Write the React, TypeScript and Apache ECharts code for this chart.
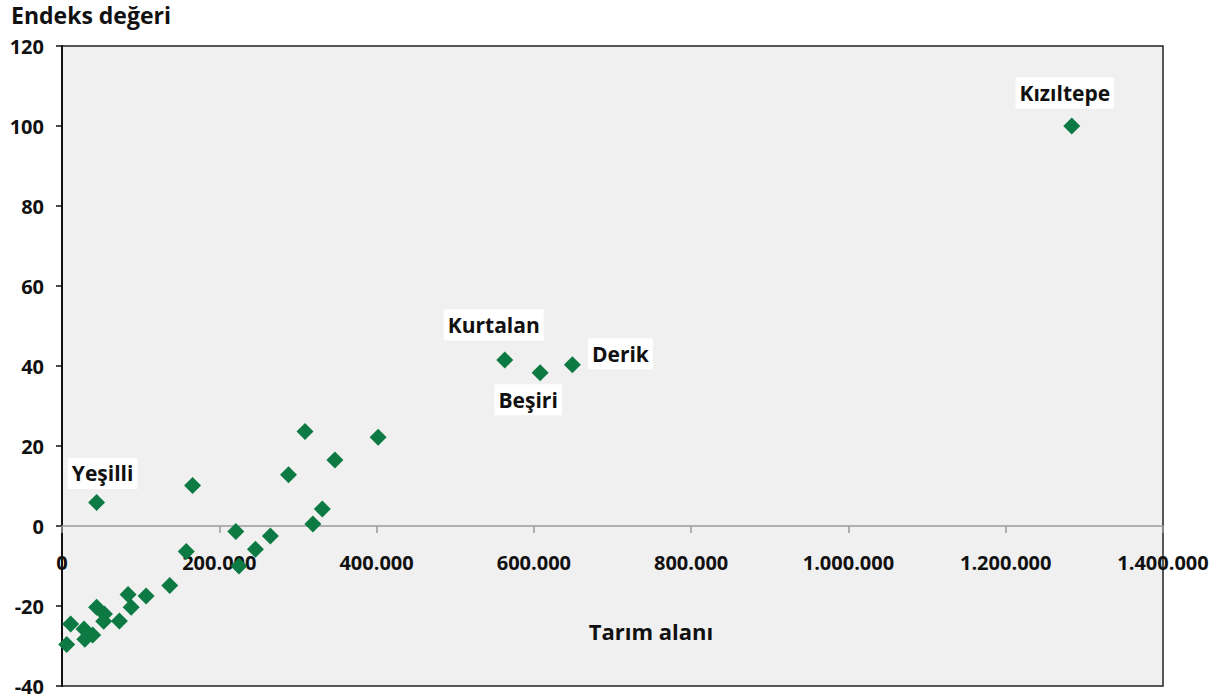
import React, { useEffect, useRef } from "react";
import * as echarts from "echarts";

// Tarım alanı (x) and Endeks değeri (y) per district
const areaValues: number[] = [
  1284000, 563000, 608000, 649000, 44000, 166000, 309000, 402000, 347000, 288000,
  331000, 319000, 221000, 265000, 246000, 158000, 225000, 137000, 107000, 84000,
  88000, 44000, 54000, 53000, 73000, 11000, 28000, 39000, 29000, 6000,
];
const indexValues: number[] = [
  100, 41.5, 38.3, 40.3, 5.9, 10.1, 23.6, 22.2, 16.5, 12.8,
  4.25, 0.5, -1.4, -2.5, -5.8, -6.4, -10, -14.9, -17.5, -17.1,
  -20.3, -20.3, -22, -23.8, -23.75, -24.5, -25.75, -27.25, -28.3, -29.6,
];
const pointNames: string[] = [
  "Kızıltepe", "Kurtalan", "Beşiri", "Derik", "Yeşilli", "", "", "", "", "",
  "", "", "", "", "", "", "", "", "", "",
  "", "", "", "", "", "", "", "", "", "",
];
const xTitle = "Tarım alanı";
const yTitle = "Endeks değeri";

const labelOffsets: Record<string, [number, number]> = {
  "Kızıltepe": [-7, -33],
  "Kurtalan": [-11, -35],
  "Beşiri": [-12, 27],
  "Derik": [48, -11],
  "Yeşilli": [6, -29],
};

const FONT = "'Open Sans', 'Noto Sans', sans-serif";
const SYM = 17;

function fmt(v: number): string {
  return String(Math.round(v)).replace(/\B(?=(\d{3})+(?!\d))/g, ".");
}

export default function App() {
  const ref = useRef<HTMLDivElement>(null);
  useEffect(() => {
    if (!ref.current) return;
    const chart = echarts.init(ref.current, undefined, { renderer: "svg" });
    const data = areaValues.map((x, i) => {
      const name = pointNames[i];
      const item: any = { value: [x, indexValues[i]], name };
      if (name) {
        const off = labelOffsets[name] || [0, -30];
        item.label = {
          show: true,
          formatter: name,
          position: [SYM / 2 + off[0], SYM / 2 + off[1]],
          align: "center",
          verticalAlign: "middle",
          backgroundColor: "#ffffff",
          padding: [5, 4],
          color: "#111",
          fontFamily: FONT,
          fontWeight: "bold",
          fontSize: 21,
        };
      }
      return item;
    });
    chart.setOption({
      animation: false,
      backgroundColor: "#ffffff",
      grid: {
        left: 62,
        right: 58,
        top: 46,
        bottom: 11,
        containLabel: false,
        outerBoundsMode: "none",
        show: true,
        backgroundColor: "#f0f0f0",
        borderColor: "#222",
        borderWidth: 1.5,
      },
      xAxis: {
        type: "value",
        min: 0,
        max: 1400000,
        interval: 200000,
        position: "bottom",
        offset: -160,
        axisLine: { show: true, onZero: false, lineStyle: { color: "#9a9a9a", width: 1.5 } },
        axisTick: { show: true, length: 7, lineStyle: { color: "#9a9a9a", width: 1.5 } },
        splitLine: { show: false },
        axisLabel: {
          formatter: (v: number) => fmt(v),
          margin: 26,
          color: "#111",
          fontFamily: FONT,
          fontWeight: "bold",
          fontSize: 20,
          showMinLabel: true,
          showMaxLabel: true,
        },
      },
      yAxis: {
        type: "value",
        min: -40,
        max: 120,
        interval: 20,
        axisLine: { show: true, onZero: false, lineStyle: { color: "#111", width: 2 } },
        axisTick: { show: true, length: 6, lineStyle: { color: "#111", width: 1.5 } },
        splitLine: { show: false },
        axisLabel: {
          margin: 18,
          color: "#111",
          fontFamily: FONT,
          fontWeight: "bold",
          fontSize: 20,
        },
      },
      graphic: [
        {
          type: "text",
          left: 11,
          top: 3,
          style: {
            text: yTitle,
            fill: "#111",
            font: `bold 23px ${FONT}`,
          },
        },
        {
          type: "text",
          x: 651,
          y: 631,
          style: {
            text: xTitle,
            fill: "#111",
            font: `bold 22px ${FONT}`,
            textAlign: "center",
            textVerticalAlign: "middle",
          },
        },
      ],
      series: [
        {
          type: "scatter",
          symbol: "diamond",
          symbolSize: [SYM, SYM],
          itemStyle: { color: "#0c7a42", opacity: 1 },
          label: { show: false },
          data,
        },
      ],
    });
    return () => chart.dispose();
  }, []);
  return (
    <div
      ref={ref}
      style={{ position: "fixed", left: 0, top: 0, width: 1221, height: 697 }}
    />
  );
}
